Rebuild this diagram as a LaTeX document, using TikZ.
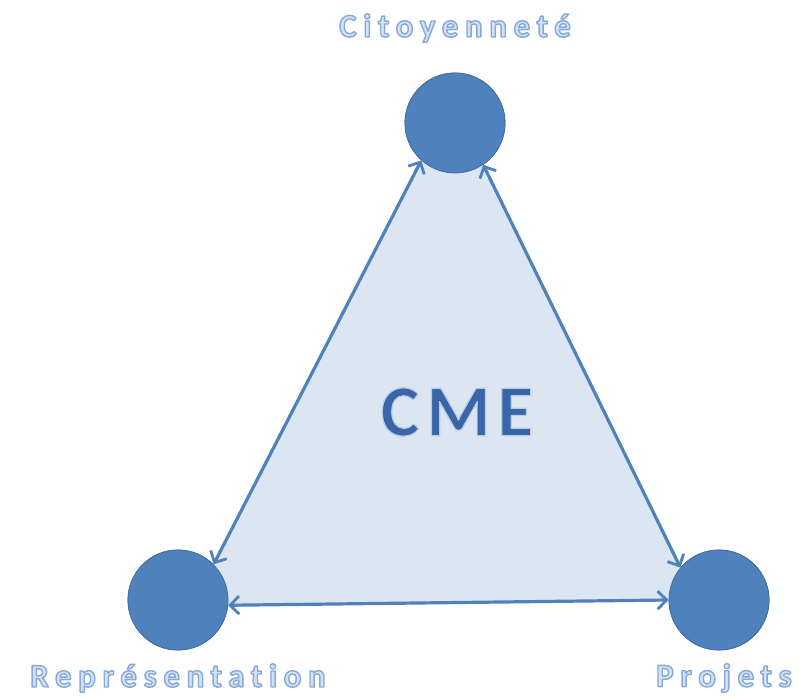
\documentclass[tikz,border=0pt]{standalone}
\usepackage{fontspec}
\setmainfont{Carlito}
\newfontfamily\lblfont[LetterSpace=20,Ligatures=NoCommon]{Carlito}
\newfontfamily\cmefont[LetterSpace=10,Ligatures=NoCommon]{Carlito}
\usetikzlibrary{arrows.meta}
\definecolor{circ}{RGB}{79,129,189}
\definecolor{circedge}{RGB}{65,110,165}
\definecolor{tri}{RGB}{220,230,242}
\definecolor{lblfill}{RGB}{210,226,245}
\definecolor{cmefill}{RGB}{58,102,168}
\newcommand{\outl}[1]{\textcolor{lblfill}{\special{pdf:literal direct 0.53 0.66 0.85 RG 1.4 w 1 j 2 Tr}#1\special{pdf:literal direct 0 Tr}}}
\newcommand{\outc}[1]{\textcolor{cmefill}{\special{pdf:literal direct 0.72 0.80 0.91 RG 1.2 w 1 j 2 Tr}#1\special{pdf:literal direct 0 Tr}}}
\tikzset{
  dot/.style={circle, fill=circ, draw=circedge, line width=0.8pt, minimum size=100pt, inner sep=0pt},
  barb/.tip={Straight Barb[length=9pt,width=18pt,line width=2.8pt]},
  link/.style={circ, line width=3.2pt, barb-barb},
  lbl/.style={font=\lblfont\bfseries\fontsize{33}{33}\selectfont, inner sep=0pt},
}
\begin{document}
\begin{tikzpicture}[x=1pt,y=1pt]
\useasboundingbox (0,0) rectangle (799,699);
\coordinate (Tc) at (455,576);
\coordinate (Lc) at (178,99);
\coordinate (Rc) at (719,99);
\path (Tc) node[dot] (T) {} (Lc) node[dot] (L) {} (Rc) node[dot] (R) {};
\fill[tri] (T.228) -- (L.45) -- (L.354) -- (R.180) -- (R.140) -- (T.304) -- cycle;
\path (Tc) node[dot] {} (Lc) node[dot] {} (Rc) node[dot] {};
\draw[link] (T.228) -- (L.45);
\draw[link] (T.304) -- (R.140);
\draw[link] (L.354) -- (R.180);
\node[lbl] (tl) at (455,671) {\outl{Citoyenneté}};
\node[lbl] (ll) at (178,21) {\outl{Représentation}};
\node[lbl] (rl) at (724,21) {\outl{Projets}};
\node[font=\cmefont\bfseries\fontsize{73}{73}\selectfont, inner sep=0pt] (cme) at (457,287) {\outc{CME}};
\end{tikzpicture}
\end{document}
